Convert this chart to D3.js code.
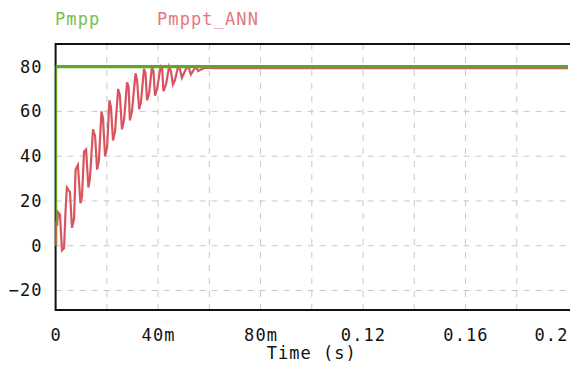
<!DOCTYPE html>
<html>
<head>
<meta charset="utf-8">
<script src="https://cdn.jsdelivr.net/npm/d3@7"></script>
<style>
    body { margin: 0; background: #fff; }
    svg { display: block; }
    text { font-family: "DejaVu Sans Mono", monospace; }
</style>
</head>
<body>
<svg id="chart" width="570" height="369"></svg>
<script>
// ticks
var timeTicks = [0, 0.04, 0.08, 0.12, 0.16, 0.2];
var timeTickLabels = ["0", "40m", "80m", "0.12", "0.16", "0.2"];
var gridTimes = [0.02, 0.04, 0.06, 0.08, 0.1, 0.12, 0.14, 0.16, 0.18];
var valueTicks = [-20, 0, 20, 40, 60, 80];

// Pmpp (reference), time in s
var pmppTime = [0, 0, 0.2];
var pmppValue = [0, 80, 80];

// Pmppt_ANN, time in ms
var annTime = [0, 0, 0.55, 0.94, 1.7, 2.5, 3.3, 3.9, 4.4, 5.6, 6.4, 7.2, 7.8, 8.7, 9.7, 10.3,
    11.1, 11.9, 12.8, 13.4, 14.6, 15.4, 16.2, 16.9, 17.9, 18.5, 19.3, 20.1, 21.0, 21.6,
    22.4, 23.2, 24.4, 25.1, 25.9, 26.7, 27.9, 28.5, 29.0, 29.8, 31.2, 31.8, 32.6, 33.3,
    34.5, 35.1, 35.7, 36.5, 37.6, 38.2, 38.8, 39.6, 41.0, 41.6, 42.1, 43.1, 44.3, 45.0,
    45.8, 46.6, 47.8, 48.5, 49.3, 50.1, 51.3, 52.1, 52.8, 53.6, 54.8, 55.6, 56.4, 58.3,
    62.2, 200];
var annValue = [0, 11, 9, 15, 14, -2, -1, 16, 26, 24, 8, 12, 34, 36, 19, 22,
    42, 43, 26, 30, 52, 49, 34, 38, 60, 57, 40, 44, 65, 62,
    47, 51, 70, 67, 52, 56, 73, 71, 56, 60, 77, 74, 61, 64,
    79, 77, 65, 68, 80, 78, 67, 70, 80, 79, 69, 72, 80, 78,
    72, 74, 80, 79, 75, 77, 80, 79, 76.5, 78, 80, 78, 78.5, 79.5,
    79.3, 79.3];

var svg = d3.select("#chart");
var plotLeft = 55.6, plotRight = 568, plotTop = 44, plotBottom = 310;

var x = d3.scaleLinear().domain([0, 0.2]).range([plotLeft, plotRight]);
var y = d3.scaleLinear().domain([-28.7, 90.1]).range([plotBottom, plotTop]);

svg.append("defs").append("clipPath").attr("id", "zone")
    .append("rect").attr("x", plotLeft).attr("y", plotTop)
    .attr("width", 570 - plotLeft).attr("height", plotBottom - plotTop);

// grille pointillee
svg.append("g").selectAll("line").data(gridTimes).enter().append("line")
    .attr("x1", function (d) { return x(d); }).attr("x2", function (d) { return x(d); })
    .attr("y1", plotTop).attr("y2", plotBottom)
    .attr("stroke", "#c8c8c8").attr("stroke-width", 1).attr("stroke-dasharray", "6,7");

svg.append("g").selectAll("line").data(valueTicks).enter().append("line")
    .attr("x1", plotLeft).attr("x2", 570)
    .attr("y1", function (d) { return y(d); }).attr("y2", function (d) { return y(d); })
    .attr("stroke", "#c8c8c8").attr("stroke-width", 1).attr("stroke-dasharray", "6,6");

// cadre
svg.append("path")
    .attr("d", "M570," + plotTop + "H" + plotLeft + "V" + plotBottom + "H570")
    .attr("fill", "none").attr("stroke", "#111").attr("stroke-width", 2);

// courbes
var line = d3.line().x(function (d) { return x(d[0]); }).y(function (d) { return y(d[1]); });

var pmpp = pmppTime.map(function (t, i) { return [t, pmppValue[i]]; });
var ann = annTime.map(function (t, i) { return [t / 1000, annValue[i]]; });

var courbes = svg.append("g").attr("clip-path", "url(#zone)");

courbes.append("path").datum(ann).attr("d", line)
    .attr("fill", "none").attr("stroke", "#d9545e").attr("stroke-width", 2.2)
    .attr("stroke-linejoin", "miter");

courbes.append("path").datum(pmpp).attr("d", line)
    .attr("fill", "none").attr("stroke", "#5ea72b").attr("stroke-width", 3.2);

// redessine le bout rouge au depart par dessus le vert
courbes.append("path").datum(ann.slice(0, 3)).attr("d", line)
    .attr("fill", "none").attr("stroke", "#b0753a").attr("stroke-width", 3);

// axe des x
var xAxis = d3.axisBottom(x).tickValues(timeTicks)
    .tickFormat(function (d, i) { return timeTickLabels[i]; }).tickSize(0);
var gx = svg.append("g").attr("transform", "translate(0," + (plotBottom + 16) + ")").call(xAxis);
gx.select(".domain").remove();
gx.selectAll("text").attr("font-size", 17).attr("fill", "#111")
    .attr("letter-spacing", 1.1).attr("dy", "0.71em");
gx.selectAll(".tick").filter(function (d) { return d === 0.2; }).select("text")
    .attr("text-anchor", "end").attr("x", plotRight - x(0.2));

// axe des y
var yAxis = d3.axisLeft(y).tickValues(valueTicks).tickSize(0);
var gy = svg.append("g").attr("transform", "translate(" + (plotLeft - 13) + ",0)").call(yAxis);
gy.select(".domain").remove();
gy.selectAll("text").attr("font-size", 17).attr("fill", "#111")
    .attr("letter-spacing", 1.1).attr("x", 0).attr("text-anchor", "end");

svg.append("text").attr("x", (plotLeft + plotRight) / 2).attr("y", 359)
    .attr("text-anchor", "middle").attr("font-size", 17).attr("fill", "#111")
    .attr("letter-spacing", 1.0).text("Time (s)");

// legende
svg.append("text").attr("x", 55).attr("y", 25).attr("font-size", 17)
    .attr("fill", "#76c050").attr("letter-spacing", 1.1).text("Pmpp");
svg.append("text").attr("x", 157).attr("y", 25).attr("font-size", 17)
    .attr("fill", "#e2777e").attr("letter-spacing", 1.1).text("Pmppt_ANN");
</script>
</body>
</html>
